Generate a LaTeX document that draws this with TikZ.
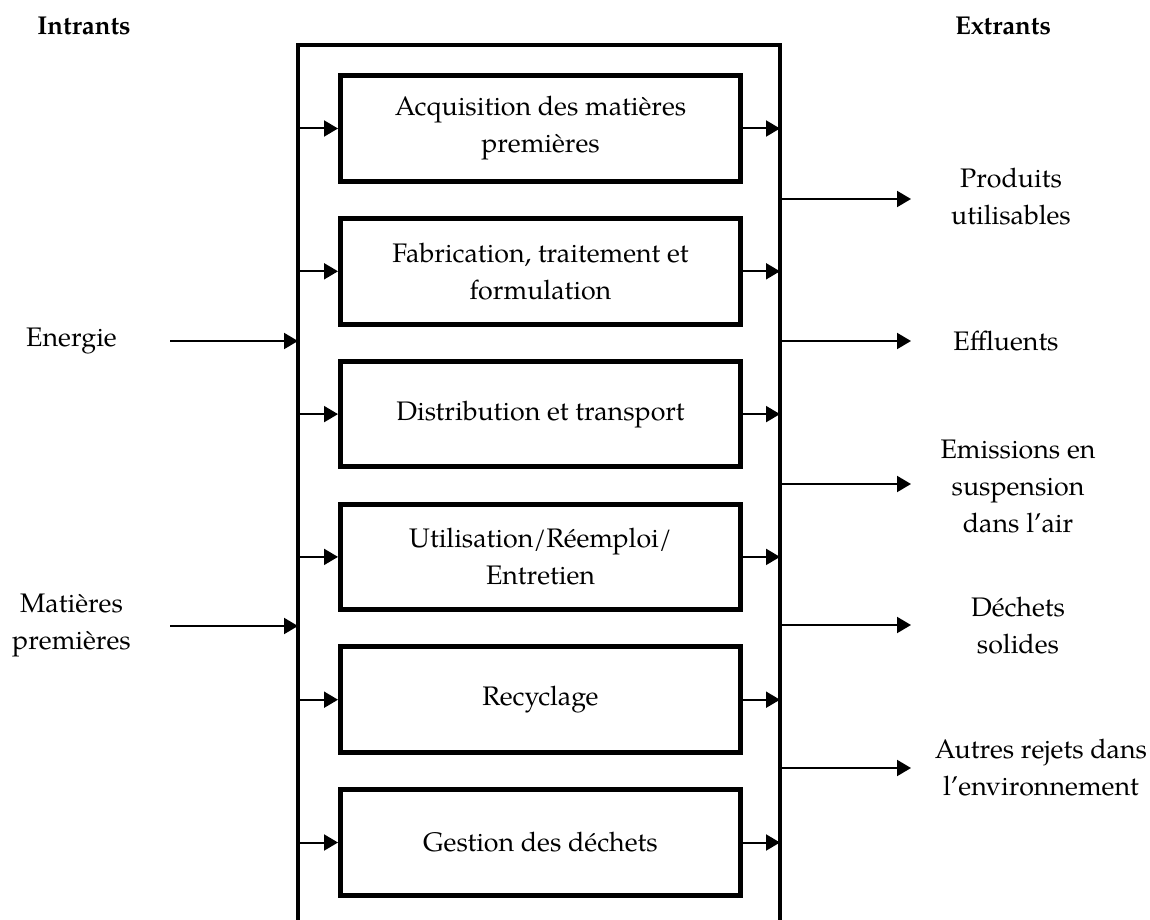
\documentclass[tikz,border=0pt]{standalone}
\usepackage{fontspec}
\setmainfont{TeX Gyre Pagella}
\usetikzlibrary{arrows.meta}
\begin{document}
\begin{tikzpicture}[x=1pt,y=-1pt,
  font=\fontsize{26.8}{37}\selectfont,
  stage/.style={draw,line width=5pt,minimum width=400pt,minimum height=105.5pt,align=center,inner sep=0pt},
  flow/.style={line width=2pt,-{Triangle[length=14pt,width=16pt]}},
  lbl/.style={align=center,inner sep=0pt},
  head/.style={lbl,font=\fontsize{25.8}{37}\selectfont\bfseries},
  frame/.style={line width=4.7pt,line join=miter}]
\useasboundingbox (0,0) rectangle (1150,920);
% outer frame
\coordinate (FBL) at (298,925);
\coordinate (FTL) at (298,45);
\coordinate (FTR) at (780,45);
\coordinate (FBR) at (780,925);
\draw[frame] (FBL) -- (FTL) -- (FTR) -- (FBR);
% stages
\node[stage] (b1) at (540.5,128.5) {Acquisition des matières\\premières};
\node[stage] (b2) at (540.5,271.3) {Fabrication, traitement et\\formulation};
\node[stage] (b3) at (540.5,414.1) {Distribution et transport};
\node[stage] (b4) at (540.5,556.9) {Utilisation/Réemploi/\\Entretien};
\node[stage] (b5) at (540.5,699.7) {Recyclage};
\node[stage] (b6) at (540.5,842.5) {Gestion des déchets};
\foreach \b in {b1,b2,b3,b4,b5,b6}{
  \draw[flow] (FTL |- \b.west) -- (\b.west);
  \draw[flow] (\b.east) -- (FTR |- \b.east);
}
% headers
\node[head] (hin) at (84,25.5) {Intrants};
\node[head] (hout) at (1003,25.5) {Extrants};
% inputs
\node[lbl] (ie) at (71.5,341) {Energie};
\coordinate (ie0) at (170,341);
\draw[flow] (ie0) -- (FTL |- ie0);
\node[lbl] (im) at (71.5,625) {Matières\\premières};
\coordinate (im0) at (170,626);
\draw[flow] (im0) -- (FTL |- im0);
% outputs
\coordinate (o1) at (911,199);
\coordinate (o2) at (911,341);
\coordinate (o3) at (911,484);
\coordinate (o4) at (911,625);
\coordinate (o5) at (911,768);
\foreach \o in {o1,o2,o3,o4,o5}{
  \draw[flow] (FTR |- \o) -- (\o);
}
\node[lbl] (t1) at (1011,197) {Produits\\utilisables};
\node[lbl] (t2) at (1006,341) {Effluents};
\node[lbl] (t3) at (1018,486) {Emissions en\\suspension\\dans l’air};
\node[lbl] (t4) at (1018,626) {Déchets\\solides};
\node[lbl] (t5) at (1041,768) {Autres rejets dans\\l’environnement};
\end{tikzpicture}
\end{document}
